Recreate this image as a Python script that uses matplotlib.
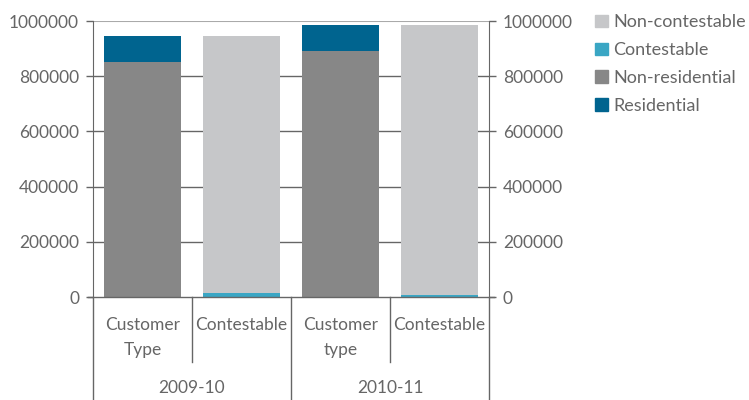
import matplotlib
matplotlib.use("Agg")
import matplotlib.pyplot as plt
import matplotlib.transforms as mtransforms
from matplotlib.patches import Patch
import numpy as np

plt.rcParams["font.family"] = ["Lato", "DejaVu Sans"]

# data
categories = ["Customer\nType", "Contestable", "Customer\ntype", "Contestable"]
years = ["2009-10", "2010-11"]
non_residential = [851000, 0, 891000, 0]
residential = [94000, 0, 94000, 0]
contestable = [0, 16000, 0, 9000]
non_contestable = [0, 929000, 0, 976000]
yticks = [0, 200000, 400000, 600000, 800000, 1000000]

C_RES = "#00648f"
C_NONRES = "#878787"
C_CONT = "#3aa6c4"
C_NONCONT = "#c6c7c9"
TXT = "#666666"
LINE = "#666666"

fig = plt.figure(figsize=(7.49, 4.0), dpi=100)
ax = fig.add_axes([93 / 749, 1 - 297 / 400, 396 / 749, 276 / 400])

x = np.arange(len(categories))
w = 0.77
nonres = np.array(non_residential)
cont = np.array(contestable)
ax.bar(x, nonres, w, color=C_NONRES, zorder=3)
ax.bar(x, residential, w, bottom=nonres, color=C_RES, zorder=3)
ax.bar(x, cont, w, color=C_CONT, zorder=3)
ax.bar(x, non_contestable, w, bottom=cont, color=C_NONCONT, zorder=3)

ax.set_xlim(-0.5, len(categories) - 0.5)
ax.set_ylim(0, 1000000)
ax.set_yticks(yticks)
ax.set_yticklabels([str(v) for v in yticks])
ax.tick_params(axis="y", length=5, width=1, color=LINE, labelcolor=TXT,
               labelsize=12.5, pad=5)
for v in yticks[1:-1]:
    ax.axhline(v, color=LINE, lw=1, zorder=1)
ax.axhline(yticks[-1], color="#aaaaaa", lw=1.5, zorder=1)

for s in ["top", "right", "bottom"]:
    ax.spines[s].set_visible(False)
ax.spines["left"].set_color(LINE)

ax2 = ax.twinx()
ax2.set_ylim(ax.get_ylim())
ax2.set_yticks(yticks)
ax2.set_yticklabels([str(v) for v in yticks])
ax2.tick_params(axis="y", length=5, width=1, color=LINE, labelcolor=TXT,
                labelsize=12.5, pad=5)
for s in ["top", "left", "bottom"]:
    ax2.spines[s].set_visible(False)
ax2.spines["right"].set_color(LINE)

# two-level category axis
ax.set_xticks([])
tr = mtransforms.blended_transform_factory(ax.transData, ax.transAxes)
px = 1 / 276
ax.plot([-0.55, len(categories) - 0.45], [0, 0], color=LINE, lw=1,
        transform=tr, clip_on=False, zorder=4)
for xi, lab in zip(x, categories):
    ax.text(xi, -20 * px, lab, transform=tr, ha="center", va="top",
            color=TXT, fontsize=12.5, linespacing=1.7)
for g in range(len(years)):
    ax.plot([2 * g + 0.5] * 2, [0, -65 * px], color=LINE, lw=1,
            transform=tr, clip_on=False)
    ax.text(2 * g + 0.5, -83 * px, years[g], transform=tr, ha="center",
            va="top", color=TXT, fontsize=12.5)
for xb in [-0.5, 1.5, 3.5]:
    ax.plot([xb, xb], [0, -103 * px], color=LINE, lw=1, transform=tr,
            clip_on=False)

handles = [Patch(color=C_NONCONT, label="Non-contestable"),
           Patch(color=C_CONT, label="Contestable"),
           Patch(color=C_NONRES, label="Non-residential"),
           Patch(color=C_RES, label="Residential")]
leg = fig.legend(handles=handles, loc="upper left",
                 bbox_to_anchor=(588 / 749, 1 - 7 / 400), frameon=False,
                 fontsize=13, handlelength=0.7, handleheight=0.7,
                 handletextpad=0.3, labelspacing=0.66, borderaxespad=0)
for t in leg.get_texts():
    t.set_color(TXT)

fig.savefig("out.png", dpi=100)
